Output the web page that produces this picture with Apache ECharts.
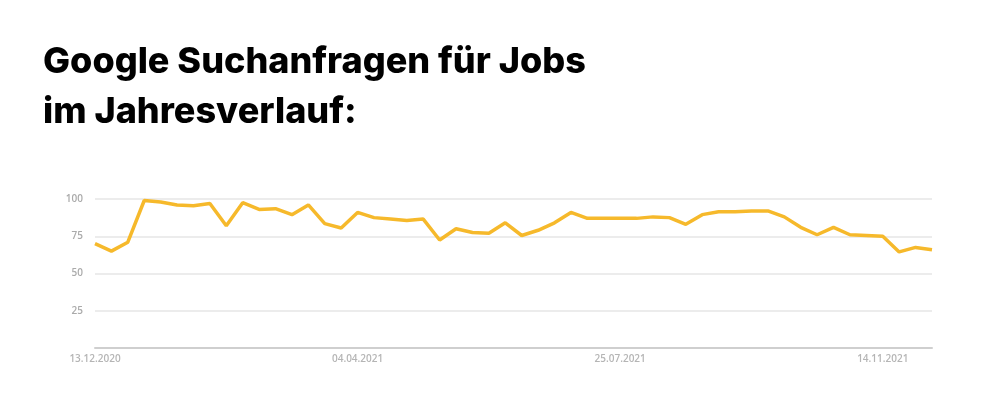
<!DOCTYPE html>
<html><head><meta charset="utf-8">
<script src="https://cdn.jsdelivr.net/npm/echarts@6/dist/echarts.min.js"></script>
<style>html,body{margin:0;padding:0;background:#fff}#c{width:1000px;height:400px}</style>
</head><body><div id="c"></div>
<script>
const startDate = [2020, 12, 13];
const weeks = 52;
const values = [70,65,71,99,98,96,95.5,97,82,97.5,93,93.5,89.5,96,83.5,80.5,91,87.5,86.5,85.5,86.5,72.5,80,77.5,77,84,75.5,79,84,91,87,87,87,87,88,87.5,83,89.5,91.5,91.5,92,92,88,81,76,81,76,75.5,75,64.5,67.5,66];
const yTicks = [25, 50, 75, 100];
const titleLines = ['Google Suchanfragen für Jobs', 'im Jahresverlauf:'];

const categories = [];
for (let i = 0; i < weeks; i++) {
  const d = new Date(Date.UTC(startDate[0], startDate[1]-1, startDate[2] + 7*i));
  const p = n => String(n).padStart(2,'0');
  categories.push(p(d.getUTCDate()) + '.' + p(d.getUTCMonth()+1) + '.' + d.getUTCFullYear());
}
const chart = echarts.init(document.getElementById('c'));
chart.setOption({
  animation:false,
  title:{text:titleLines.join('\n'), left:38, top:32,
    textStyle:{fontFamily:'Inter', fontWeight:800, fontSize:36, color:'#000', lineHeight:50}},
  grid:{left:95, right:68, top:199, bottom:52},
  xAxis:{type:'category', data:categories, boundaryGap:false,
    axisLine:{lineStyle:{color:'#cfcfcf', width:2}}, axisTick:{show:false},
    axisLabel:{interval:15, color:'#b5b5b5', fontSize:10, fontFamily:'Open Sans', fontWeight:600, margin:6}},
  yAxis:{type:'value', min:0, max:100, interval:25,
    axisLine:{show:false}, axisTick:{show:false},
    splitLine:{lineStyle:{color:'#e6e6e6', width:1.5}},
    axisLabel:{color:'#aaa', fontSize:10, fontFamily:'Open Sans', fontWeight:600, margin:12,
      formatter:v => yTicks.includes(v) ? String(v) : ''}},
  series:[{type:'line', data:values, symbol:'none', lineStyle:{color:'#F6B92B', width:3.5}}]
});
</script></body></html>
